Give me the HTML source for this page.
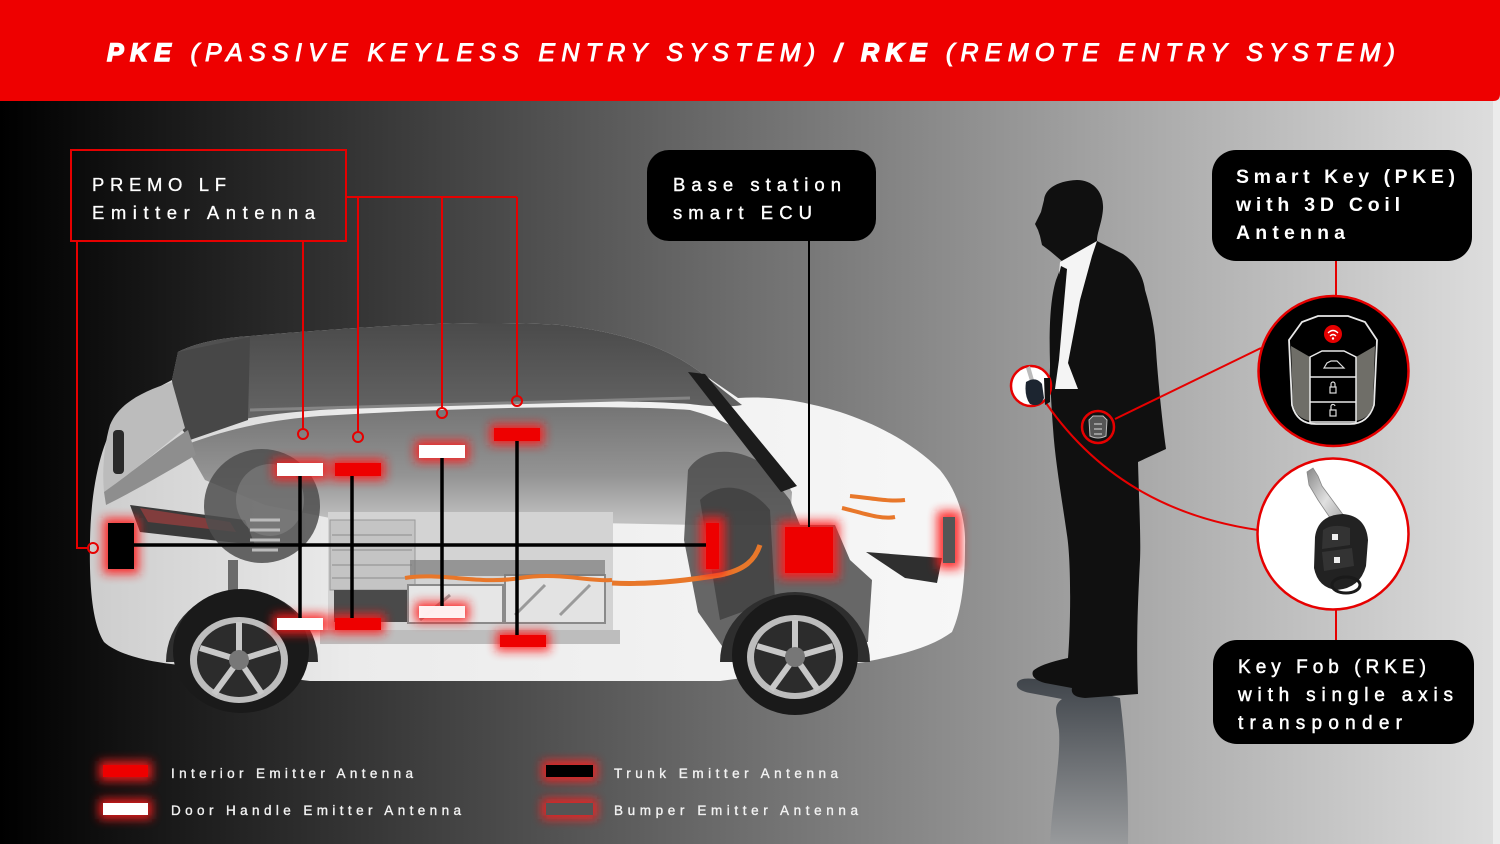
<!DOCTYPE html>
<html><head><meta charset="utf-8"><title>PKE / RKE</title>
<style>
html,body{margin:0;padding:0;width:1500px;height:844px;overflow:hidden;background:#000}
svg{display:block}
text{font-family:"Liberation Sans",Arial,sans-serif}
</style></head><body>
<svg xmlns="http://www.w3.org/2000/svg" width="1500" height="844" viewBox="0 0 1500 844">
<defs>
<linearGradient id="bg" x1="0" y1="0" x2="1500" y2="0" gradientUnits="userSpaceOnUse">
<stop offset="0" stop-color="#000"/><stop offset="1" stop-color="#dedede"/>
</linearGradient>
<linearGradient id="body" x1="90" y1="0" x2="965" y2="0" gradientUnits="userSpaceOnUse">
<stop offset="0" stop-color="#cdcdcd"/><stop offset="0.3" stop-color="#ebebeb"/><stop offset="1" stop-color="#f7f7f7"/>
</linearGradient>
<linearGradient id="roof" x1="0" y1="322" x2="0" y2="430" gradientUnits="userSpaceOnUse">
<stop offset="0" stop-color="#4a4a4a"/><stop offset="1" stop-color="#686868"/>
</linearGradient>
<linearGradient id="win" x1="0" y1="410" x2="0" y2="520" gradientUnits="userSpaceOnUse">
<stop offset="0" stop-color="#767676"/><stop offset="0.6" stop-color="#949494"/><stop offset="1" stop-color="#c0c0c0"/>
</linearGradient>
<linearGradient id="shadow" x1="0" y1="680" x2="0" y2="844" gradientUnits="userSpaceOnUse">
<stop offset="0" stop-color="#41464c"/><stop offset="1" stop-color="#989a9c"/>
</linearGradient>
<linearGradient id="blade" x1="0" y1="0" x2="1" y2="1">
<stop offset="0" stop-color="#888"/><stop offset="0.5" stop-color="#e0e0e0"/><stop offset="1" stop-color="#999"/>
</linearGradient>
<filter id="blur" filterUnits="userSpaceOnUse" x="0" y="0" width="1500" height="844"><feGaussianBlur stdDeviation="5"/></filter>
</defs>

<!-- background -->
<rect width="1500" height="844" fill="url(#bg)"/>
<rect x="1493" y="100" width="7" height="744" fill="#ececec"/>

<!-- header -->
<path d="M0,0 H1500 V94 Q1500,101 1493,101 H0 Z" fill="#ee0000"/>
<text x="107" y="61" font-size="25" font-style="italic" fill="#fff" stroke="#fff" stroke-width="0.9" textLength="1288" lengthAdjust="spacing"><tspan font-weight="bold" stroke-width="1.4">PKE</tspan> (PASSIVE KEYLESS ENTRY SYSTEM) <tspan font-weight="bold">/</tspan> <tspan font-weight="bold" stroke-width="1.4">RKE</tspan> (REMOTE ENTRY SYSTEM)</text>

<!-- ================= CAR ================= -->
<g id="car">
 <path d="M117,420 C128,405 145,394 172,380 L178,352 C200,341 225,338 250,336 C380,325 480,320 560,325 C630,333 670,350 700,372 L738,398 C770,396 800,400 840,412 C880,425 915,445 940,470 C958,492 966,520 965,545 C965,580 962,610 952,632 C930,648 900,655 865,662 L720,681 L310,681 L180,665 C150,662 118,655 104,642 C93,625 89,590 90,540 C91,490 100,445 117,420 Z" fill="url(#body)"/>
 <path d="M185,445 C230,428 270,420 320,416 C450,408 600,404 690,410 C720,418 748,432 768,452 L792,492 L790,525 L700,525 L330,518 L265,505 L205,480 Z" fill="url(#win)"/>
 <path d="M172,380 L178,352 C200,341 225,338 250,336 C380,325 480,320 560,325 C630,333 670,350 700,372 L742,405 C725,408 705,406 690,404 C600,398 450,402 320,410 C265,414 225,420 195,435 L182,425 Z" fill="url(#roof)"/>
 <line x1="250" y1="410" x2="690" y2="398" stroke="#858585" stroke-width="3"/>
 <path d="M172,380 L178,352 L250,337 L248,420 L190,440 L175,420 Z" fill="#474747"/>
 <path d="M110,425 C118,405 140,392 172,382 L185,428 C165,445 135,470 104,492 C102,470 104,445 110,425 Z" fill="#bcbcbc"/>
 <path d="M104,492 C135,470 165,445 188,430 L196,455 C170,470 140,488 106,505 Z" fill="#8e8e8e"/>
 <rect x="113" y="430" width="11" height="44" rx="4" fill="#2a2a2a"/>
 <path d="M130,505 L245,520 L255,545 L140,532 Z" fill="#3a3a3a"/>
 <path d="M140,508 L230,522 L236,532 L148,522 Z" fill="#b04040" opacity="0.6"/>
 <ellipse cx="262" cy="506" rx="58" ry="57" fill="#4d4d4d" opacity="0.85"/>
 <ellipse cx="270" cy="500" rx="34" ry="36" fill="#8a8a8a" opacity="0.5"/>
 <path d="M250,520 h30 M250,530 h30 M250,540 h30 M252,550 h26" stroke="#bbb" stroke-width="3"/>
 <rect x="228" y="560" width="10" height="60" fill="#6a6a6a"/>
 <rect x="328" y="512" width="285" height="125" fill="#d3d3d3"/>
 <rect x="330" y="520" width="85" height="70" fill="#c4c4c4" stroke="#999" stroke-width="1"/>
 <path d="M332,535 h80 M332,550 h80 M332,565 h80 M332,578 h80" stroke="#a8a8a8" stroke-width="2"/>
 <rect x="334" y="590" width="82" height="32" fill="#4a4a4a"/>
 <rect x="408" y="585" width="95" height="38" fill="#e6e6e6" stroke="#8a8a8a" stroke-width="2"/>
 <rect x="505" y="575" width="100" height="48" fill="#e3e3e3" stroke="#8a8a8a" stroke-width="2"/>
 <path d="M515,615 L545,585 M560,615 L590,585 M420,620 L450,595" stroke="#9a9a9a" stroke-width="3"/>
 <rect x="410" y="560" width="195" height="16" fill="#7a7a7a" opacity="0.7"/>
 <path d="M405,578 C440,572 480,585 520,578 C560,572 590,582 612,580" stroke="#e8772a" stroke-width="4" fill="none"/>
 <rect x="320" y="630" width="300" height="14" fill="#bdbdbd"/>
 <path d="M688,470 C700,450 730,445 760,462 L790,500 L800,525 L835,525 L850,560 L872,580 L868,642 L722,646 L698,612 L684,540 Z" fill="#4e4e4e" opacity="0.85"/>
 <path d="M700,500 C720,480 750,485 770,510 L775,600 L720,620 Z" fill="#3a3a3a" opacity="0.7"/>
 <path d="M612,583 C650,585 690,580 720,575 C745,570 755,560 760,545" stroke="#e8772a" stroke-width="5" fill="none"/>
 <path d="M842,508 C860,512 880,520 895,517 M850,496 C870,498 890,502 905,500" stroke="#e8772a" stroke-width="4" fill="none"/>
 <path d="M688,372 L705,374 L797,486 L781,492 Z" fill="#1c1c1c"/>
 <path d="M866,552 L942,558 L937,583 L905,578 Z" fill="#2f2f2f"/>
 <path d="M166,662 A76,72 0 0 1 318,662 Z" fill="#2e2e2e"/>
 <path d="M720,662 A75,70 0 0 1 870,662 Z" fill="#2e2e2e"/>
 <ellipse cx="241" cy="651" rx="68" ry="62" fill="#1a1a1a"/>
 <ellipse cx="239" cy="660" rx="49" ry="43" fill="#bdbdbd"/>
 <ellipse cx="239" cy="660" rx="42" ry="37" fill="#2c2c2c"/>
 <g stroke="#c8c8c8" stroke-width="6">
  <line x1="239" y1="660" x2="239" y2="622"/><line x1="239" y1="660" x2="278" y2="648"/><line x1="239" y1="660" x2="262" y2="694"/><line x1="239" y1="660" x2="214" y2="694"/><line x1="239" y1="660" x2="200" y2="648"/>
 </g>
 <circle cx="239" cy="660" r="10" fill="#777"/>
 <ellipse cx="795" cy="655" rx="63" ry="60" fill="#1a1a1a"/>
 <ellipse cx="795" cy="657" rx="48" ry="42" fill="#bdbdbd"/>
 <ellipse cx="795" cy="657" rx="41" ry="36" fill="#2c2c2c"/>
 <g stroke="#c8c8c8" stroke-width="6">
  <line x1="795" y1="657" x2="795" y2="620"/><line x1="795" y1="657" x2="833" y2="646"/><line x1="795" y1="657" x2="818" y2="690"/><line x1="795" y1="657" x2="771" y2="690"/><line x1="795" y1="657" x2="757" y2="646"/>
 </g>
 <circle cx="795" cy="657" r="10" fill="#777"/>
</g>

<!-- red connectors from PREMO box -->
<g stroke="#e60000" stroke-width="2" fill="none">
 <path d="M77,241 V548 H88"/>
 <circle cx="93" cy="548" r="5"/>
 <path d="M303,241 V429"/>
 <circle cx="303" cy="434" r="5"/>
 <path d="M346,197 H517"/>
 <path d="M358,197 V432"/>
 <circle cx="358" cy="437" r="5"/>
 <path d="M442,197 V408"/>
 <circle cx="442" cy="413" r="5"/>
 <path d="M517,197 V396"/>
 <circle cx="517" cy="401" r="5"/>
</g>

<!-- glows -->
<g fill="#ff1a1a" filter="url(#blur)" opacity="0.9">
 <rect x="273" y="459" width="54" height="21"/>
 <rect x="331" y="459" width="54" height="21"/>
 <rect x="415" y="441" width="54" height="21"/>
 <rect x="490" y="424" width="54" height="21"/>
 <rect x="273" y="614" width="54" height="20"/>
 <rect x="331" y="614" width="54" height="20"/>
 <rect x="415" y="602" width="54" height="20"/>
 <rect x="496" y="631" width="54" height="20"/>
 <rect x="103" y="518" width="36" height="56"/>
 <rect x="700" y="517" width="25" height="58"/>
 <rect x="779" y="521" width="60" height="58"/>
 <rect x="937" y="511" width="24" height="58"/>
</g>

<!-- black lines -->
<g stroke="#000" stroke-width="3.5">
 <line x1="134" y1="545" x2="707" y2="545"/>
 <line x1="300" y1="476" x2="300" y2="618"/>
 <line x1="352" y1="476" x2="352" y2="618"/>
 <line x1="442" y1="458" x2="442" y2="606"/>
 <line x1="517" y1="441" x2="517" y2="635"/>
</g>
<line x1="809" y1="241" x2="809" y2="527" stroke="#000" stroke-width="2"/>

<!-- antennas -->
<g fill="#fff">
 <rect x="277" y="463" width="46" height="13"/>
 <rect x="419" y="445" width="46" height="13"/>
 <rect x="277" y="618" width="46" height="12"/>
 <rect x="419" y="606" width="46" height="12" opacity="0.92"/>
</g>
<g fill="#ee0000">
 <rect x="335" y="463" width="46" height="13"/>
 <rect x="494" y="428" width="46" height="13"/>
 <rect x="335" y="618" width="46" height="12"/>
 <rect x="500" y="635" width="46" height="12"/>
 <rect x="706" y="523" width="13" height="46"/>
 <rect x="785" y="527" width="48" height="46"/>
</g>
<rect x="108" y="523" width="26" height="46" fill="#000"/>
<rect x="943" y="517" width="12" height="46" fill="#555"/>

<!-- PREMO box -->
<rect x="71" y="150" width="275" height="91" fill="none" stroke="#e60000" stroke-width="2"/>
<text x="92" y="191" font-size="18.5" fill="#fff" stroke="#fff" stroke-width="0.3" textLength="134" lengthAdjust="spacing">PREMO LF</text>
<text x="92" y="219" font-size="18.5" fill="#fff" stroke="#fff" stroke-width="0.3" textLength="223" lengthAdjust="spacing">Emitter Antenna</text>

<!-- Base station box -->
<rect x="647" y="150" width="229" height="91" rx="22" fill="#000"/>
<text x="673" y="191" font-size="18.5" fill="#fff" stroke="#fff" stroke-width="0.4" textLength="168" lengthAdjust="spacing">Base station</text>
<text x="673" y="219" font-size="18.5" fill="#fff" stroke="#fff" stroke-width="0.4" textLength="139" lengthAdjust="spacing">smart ECU</text>

<!-- Smart key box -->
<rect x="1212" y="150" width="260" height="111" rx="24" fill="#000"/>
<text x="1236" y="183" font-size="19.5" font-weight="bold" fill="#fff" textLength="219" lengthAdjust="spacing">Smart Key (PKE)</text>
<text x="1236" y="211" font-size="19.5" font-weight="bold" fill="#fff" textLength="164" lengthAdjust="spacing">with 3D Coil</text>
<text x="1236" y="239" font-size="19.5" font-weight="bold" fill="#fff" textLength="109" lengthAdjust="spacing">Antenna</text>

<!-- Key fob box -->
<rect x="1213" y="640" width="261" height="104" rx="24" fill="#000"/>
<text x="1238" y="673" font-size="19" fill="#fff" stroke="#fff" stroke-width="0.5" textLength="188" lengthAdjust="spacing">Key Fob (RKE)</text>
<text x="1238" y="701" font-size="19" fill="#fff" stroke="#fff" stroke-width="0.5" textLength="215" lengthAdjust="spacing">with single axis</text>
<text x="1238" y="729" font-size="19" fill="#fff" stroke="#fff" stroke-width="0.5" textLength="164" lengthAdjust="spacing">transponder</text>

<!-- ================= MAN ================= -->
<path d="M1017,683 Q1020,677 1035,679 L1085,689 L1120,698 C1124,730 1129,780 1128,844 L1050,844 C1052,800 1061,760 1059,730 C1057,715 1052,706 1062,699 L1030,693 Q1015,690 1017,683 Z" fill="url(#shadow)"/>
<path d="M1077,180 C1093,180 1104,192 1103,209 C1102,223 1097,232 1097,241 L1123,254 C1135,262 1143,275 1145,290 C1151,310 1155,330 1156,350 C1158,380 1162,420 1166,449 L1138,462 C1139,500 1141,540 1140,560 C1138,600 1136,640 1138,694 L1085,698 Q1070,697 1072,688 L1045,683 Q1030,679 1033,671 Q1040,664 1068,658 C1071,620 1071,560 1067,535 C1062,500 1055,460 1053,428 C1051,400 1050,380 1050,363 C1049,330 1050,300 1056,280 L1063,262 L1050,251 L1042,245 L1040,236 L1038,230 L1035,224 L1041,212 L1044,200 C1045,190 1055,181 1077,180 Z" fill="#101010"/>
<path d="M1060,262 L1097,241 L1092,256 L1080,300 L1068,363 L1078,389 L1055,389 L1057,300 Z" fill="#f4f4f4"/>
<path d="M1061,266 L1067,269 L1059,360 L1054,396 L1049,390 L1053,300 Z" fill="#101010"/>

<!-- red lines to zoom circles -->
<g stroke="#e60000" stroke-width="2" fill="none">
 <path d="M1046,403 Q1120,510 1258,530"/>
 <path d="M1115,419 L1261,348"/>
 <path d="M1336,261 V296"/>
 <path d="M1336,610 V640"/>
</g>

<!-- hand circle -->
<circle cx="1031" cy="386" r="20" fill="#fff" stroke="#e60000" stroke-width="2.5"/>
<path d="M1026,368 L1030,366 L1034,380 L1030,381 Z" fill="#bbb"/>
<path d="M1026,382 Q1036,376 1042,384 L1044,398 Q1040,408 1030,404 Q1024,396 1026,382 Z" fill="#1c2530"/>
<path d="M1044,378 L1050,378 L1050,402 L1045,405 Z" fill="#101010"/>

<!-- pocket circle -->
<circle cx="1098" cy="427" r="16" fill="#111" stroke="#e60000" stroke-width="2.5"/>
<path d="M1089,420 L1093,416 L1103,416 L1107,420 L1106,436 Q1098,440 1090,436 Z" fill="#555" stroke="#bbb" stroke-width="1"/>
<path d="M1094,424 h8 M1094,429 h8 M1094,434 h8" stroke="#ddd" stroke-width="1"/>

<!-- smart key circle -->
<circle cx="1333.5" cy="371" r="75" fill="#000" stroke="#e60000" stroke-width="2.5"/>
<path d="M1289,340 L1302,322 L1318,316 L1348,316 L1365,322 L1377,340 L1374,405 Q1368,424 1350,424 L1316,424 Q1297,424 1292,405 Z" fill="#000" stroke="#e8e8e8" stroke-width="1.8"/>
<path d="M1291,346 L1310,357 L1310,421 Q1296,418 1293,405 Z" fill="#6f6e68"/>
<path d="M1375,346 L1356,357 L1356,421 Q1370,418 1373,405 Z" fill="#6f6e68"/>
<path d="M1310,357 L1322,351 L1344,351 L1356,357 L1356,422 L1310,422 Z" fill="#000" stroke="#e8e8e8" stroke-width="1.5"/>
<path d="M1310,377 H1356 M1310,402 H1356" stroke="#e8e8e8" stroke-width="1.5"/>
<path d="M1324,368 L1327,363 L1331,361 L1337,361 L1341,365 L1344,368 Z" fill="none" stroke="#ddd" stroke-width="1.2"/>
<rect x="1330" y="387" width="6" height="6" fill="none" stroke="#ddd" stroke-width="1.2"/>
<path d="M1331,387 v-3 a2,2 0 0 1 4,0 v3" fill="none" stroke="#ddd" stroke-width="1.2"/>
<rect x="1330" y="410" width="6" height="6" fill="none" stroke="#ddd" stroke-width="1.2"/>
<path d="M1331,410 v-3 a2,2 0 0 1 4,-1" fill="none" stroke="#ddd" stroke-width="1.2"/>
<circle cx="1333" cy="334" r="9" fill="#e60000"/>
<path d="M1328,333 Q1333,328 1338,333 M1330,336 Q1333,333 1336,336" stroke="#fff" stroke-width="1.3" fill="none"/>
<circle cx="1333" cy="338.5" r="1.2" fill="#fff"/>

<!-- key fob circle -->
<circle cx="1333" cy="534" r="75.5" fill="#fff" stroke="#e60000" stroke-width="2.5"/>
<path d="M1307,472 L1313,468 L1318,476 L1322,486 L1347,520 L1337,528 L1318,500 L1309,485 Z" fill="url(#blade)" stroke="#888" stroke-width="0.8"/>
<path d="M1315,537 Q1318,515 1343,514 Q1366,516 1368,540 L1366,566 Q1360,588 1337,590 Q1318,588 1314,568 Z" fill="#222"/>
<path d="M1323,530 Q1333,523 1350,528 L1350,545 L1322,549 Z" fill="#333"/>
<path d="M1322,552 L1352,548 L1354,566 L1324,571 Z" fill="#333"/>
<rect x="1332" y="534" width="6" height="6" fill="#eee"/>
<rect x="1334" y="557" width="6" height="6" fill="#eee"/>
<ellipse cx="1346" cy="585" rx="14" ry="8" fill="none" stroke="#1a1a1a" stroke-width="3"/>

<!-- ================= LEGEND ================= -->
<g fill="#ff1a1a" filter="url(#blur)" opacity="0.9">
 <rect x="99" y="761" width="53" height="20"/>
 <rect x="99" y="799" width="53" height="20"/>
 <rect x="542" y="761" width="55" height="20"/>
 <rect x="542" y="799" width="55" height="20"/>
</g>
<rect x="103" y="765" width="45" height="12" fill="#ee0000"/>
<rect x="103" y="803" width="45" height="12" fill="#fff"/>
<rect x="546" y="765" width="47" height="12" fill="#000"/>
<rect x="546" y="803" width="47" height="12" fill="#555"/>
<g font-size="13.5" fill="#f2f2f2" stroke="#f2f2f2" stroke-width="0.35">
 <text x="171" y="778" textLength="242" lengthAdjust="spacing">Interior Emitter Antenna</text>
 <text x="171" y="815" textLength="290" lengthAdjust="spacing">Door Handle Emitter Antenna</text>
 <text x="614" y="778" textLength="224" lengthAdjust="spacing">Trunk Emitter Antenna</text>
 <text x="614" y="815" textLength="244" lengthAdjust="spacing">Bumper Emitter Antenna</text>
</g>
</svg>
</body></html>
